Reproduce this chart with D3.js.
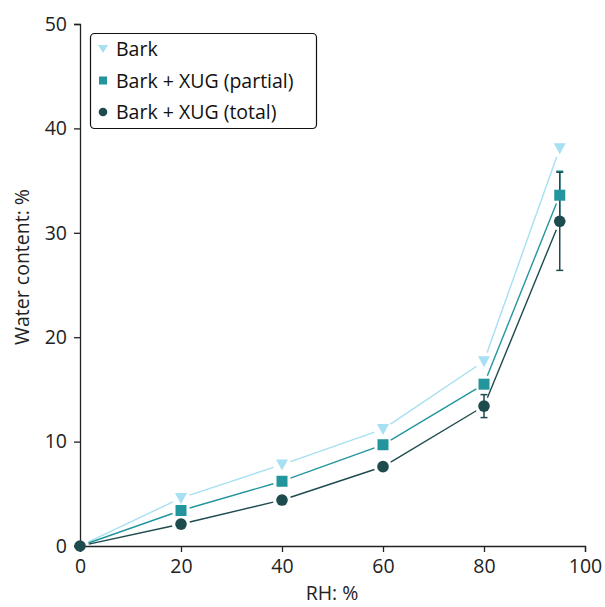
<!DOCTYPE html>
<html><head><meta charset="utf-8">
<script src="https://cdn.jsdelivr.net/npm/d3@7"></script>
<style>body{margin:0;background:#fff;} text{font-family:"Open Sans","Noto Sans",sans-serif;}</style>
</head><body>
<svg id="c" width="605" height="607"></svg>
<script>
const rh = [0, 20, 40, 60, 80, 95];
const bark = [0, 4.6, 7.8, 11.2, 17.7, 38.1];
const partial = [0, 3.4, 6.2, 9.7, 15.5, 33.6];
const total = [0, 2.1, 4.4, 7.6, 13.4, 31.1];
const partialErr = [0, 0, 0, 0, 0, 2.3];
const totalErr = [0, 0, 0, 0, 1.1, 4.7];
const xTicks = [0, 20, 40, 60, 80, 100];
const yTicks = [0, 10, 20, 30, 40, 50];
const seriesNames = ["Bark", "Bark + XUG (partial)", "Bark + XUG (total)"];
const colors = ["#a6e0f2", "#23959d", "#1e4b4e"];

const svg = d3.select("#c");
const x = d3.scaleLinear().domain([0, 100]).range([80, 585]);
const y = d3.scaleLinear().domain([0, 50]).range([546, 24]);
const FS = 19.5;

const gx = svg.append("g").attr("transform", "translate(0,546)")
  .call(d3.axisBottom(x).tickValues(xTicks).tickSize(6).tickPadding(7));
const gy = svg.append("g").attr("transform", "translate(80,0)")
  .call(d3.axisLeft(y).tickValues(yTicks).tickSize(6).tickPadding(7));
[gx, gy].forEach(g => {
  g.select(".domain").attr("stroke", "#222").attr("stroke-width", 1.3);
  g.selectAll(".tick line").attr("stroke", "#222").attr("stroke-width", 1.3);
  g.selectAll(".tick text").attr("font-size", FS).attr("fill", "#222")
    .attr("font-family", "'Open Sans','Noto Sans',sans-serif");
});

svg.append("text").attr("x", 332).attr("y", 600).attr("text-anchor", "middle")
  .attr("font-size", FS).attr("fill", "#222").text("RH:\u00a0%");
svg.append("text").attr("transform", "translate(29,267) rotate(-90)").attr("text-anchor", "middle")
  .attr("font-size", FS).attr("fill", "#222").text("Water content:\u00a0%");

const data = [bark, partial, total];
const errs = [null, partialErr, totalErr];

// error bars
errs.forEach((e, s) => {
  if (!e) return;
  const g = svg.append("g").attr("stroke", colors[s]).attr("stroke-width", 1.5);
  data[s].forEach((v, i) => {
    if (!e[i]) return;
    const cx = x(rh[i]);
    g.append("line").attr("x1", cx).attr("x2", cx).attr("y1", y(v - e[i])).attr("y2", y(v + e[i]));
    [v - e[i], v + e[i]].forEach(t => g.append("line").attr("x1", cx - 3.5).attr("x2", cx + 3.5).attr("y1", y(t)).attr("y2", y(t)));
  });
});

// lines with gaps near markers
data.forEach((vals, s) => {
  for (let i = 0; i < vals.length - 1; i++) {
    const x1 = x(rh[i]), y1 = y(vals[i]), x2 = x(rh[i + 1]), y2 = y(vals[i + 1]);
    const dx = x2 - x1, dy = y2 - y1, L = Math.hypot(dx, dy), gap = 9;
    svg.append("line").attr("x1", x1 + dx / L * gap).attr("y1", y1 + dy / L * gap)
      .attr("x2", x2 - dx / L * gap).attr("y2", y2 - dy / L * gap)
      .attr("stroke", colors[s]).attr("stroke-width", 1.4);
  }
});

function marker(g, s, cx, cy) {
  if (s === 0) {
    g.append("path").attr("d", `M${cx - 6},${cy - 5}L${cx + 6},${cy - 5}L${cx},${cy + 6}Z`).attr("fill", colors[0]);
  } else if (s === 1) {
    g.append("rect").attr("x", cx - 5.5).attr("y", cy - 5.5).attr("width", 11).attr("height", 11).attr("fill", colors[1]);
  } else {
    g.append("circle").attr("cx", cx).attr("cy", cy).attr("r", 5.8).attr("fill", colors[2]);
  }
}
data.forEach((vals, s) => {
  if (s !== 2) vals.forEach((v, i) => { if (i > 0) marker(svg, s, x(rh[i]), y(v)); });
});
total.forEach((v, i) => marker(svg, 2, x(rh[i]), y(v)));

// legend
const lg = svg.append("g");
lg.append("rect").attr("x", 90.5).attr("y", 33.5).attr("width", 226).attr("height", 95).attr("rx", 4)
  .attr("fill", "#fff").attr("stroke", "#111").attr("stroke-width", 1.2);
seriesNames.forEach((n, s) => {
  const cy = 49 + s * 31.5;
  if (s === 0) lg.append("path").attr("d", `M${98},${cy - 4}L${108},${cy - 4}L${103},${cy + 4}Z`).attr("fill", colors[0]);
  else if (s === 1) lg.append("rect").attr("x", 99).attr("y", cy - 4).attr("width", 8).attr("height", 8).attr("fill", colors[1]);
  else lg.append("circle").attr("cx", 103).attr("cy", cy).attr("r", 4.3).attr("fill", colors[2]);
  lg.append("text").attr("x", 116).attr("y", cy + 7).attr("font-size", FS).attr("fill", "#111").text(n);
});
</script>
</body></html>
